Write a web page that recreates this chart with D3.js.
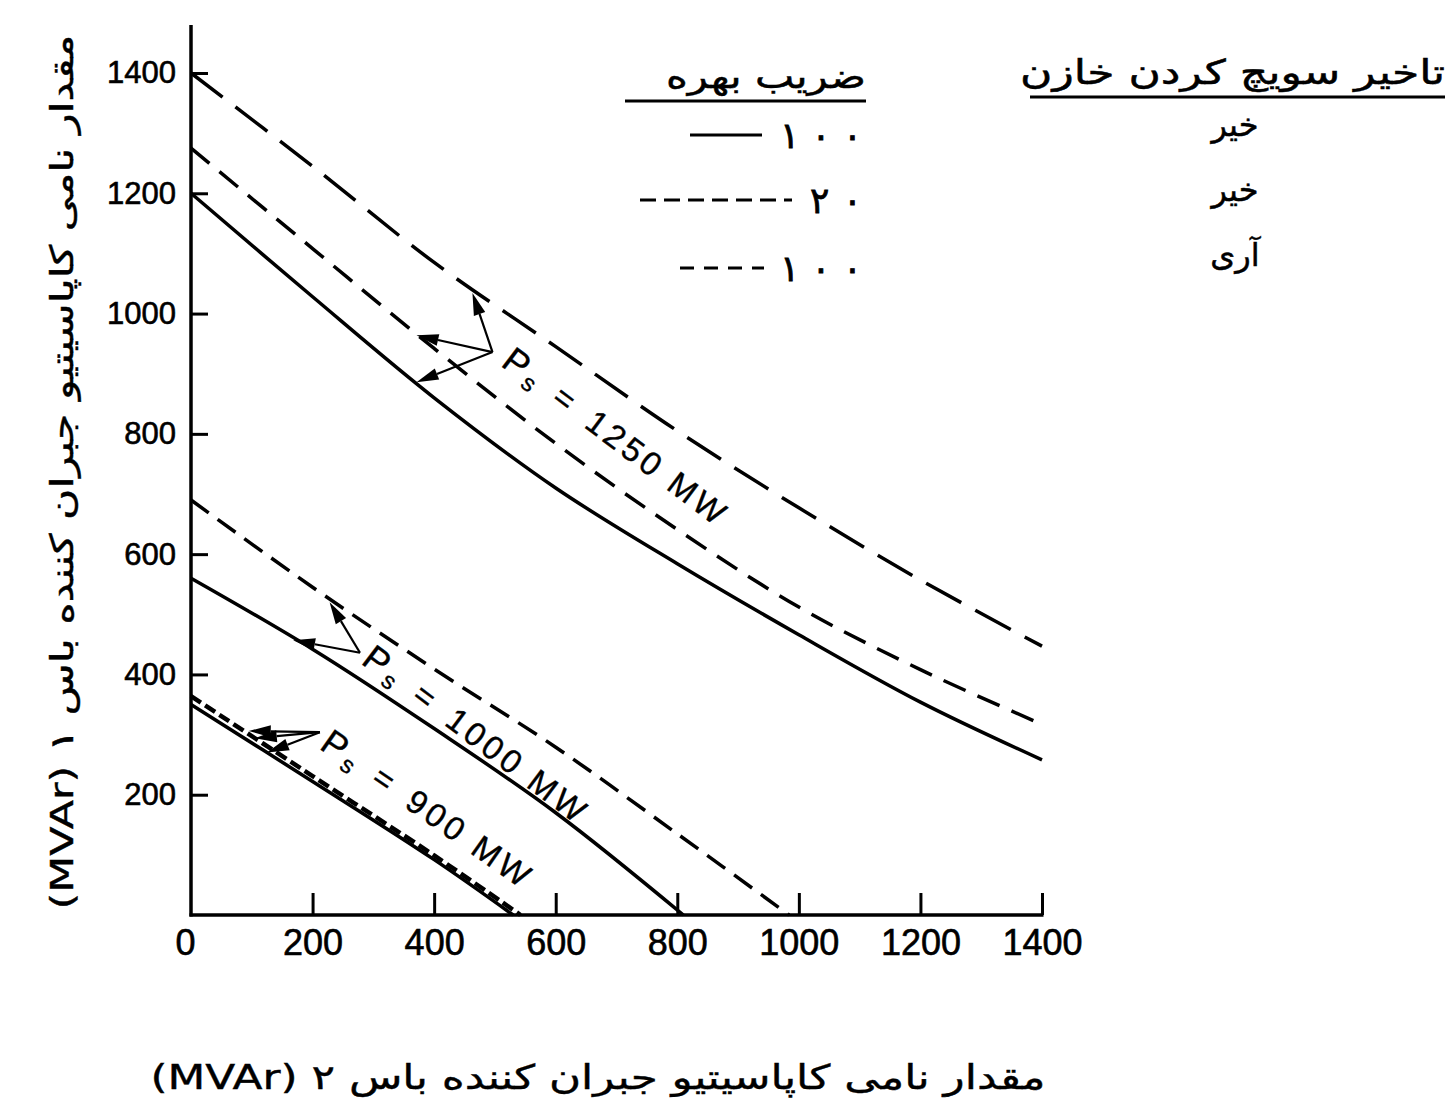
<!DOCTYPE html>
<html>
<head>
<meta charset="utf-8">
<script src="https://cdn.jsdelivr.net/npm/d3@7"></script>
<style>
  html, body { margin: 0; padding: 0; background: #fff; }
  svg { display: block; }
</style>
</head>
<body>
<svg id="chart" width="1451" height="1098"></svg>
<script>
// ---------------- data ----------------
const xTicks = [0, 200, 400, 600, 800, 1000, 1200, 1400];
const yTicks = [200, 400, 600, 800, 1000, 1200, 1400];

// Ps = 1250 MW
const ps1250Solid = [[0,1200],[200,1028],[400,860],[600,710],[800,584],[1000,466],[1200,354],[1400,258]];
const ps1250Med   = [[0,1275],[200,1108],[400,942],[600,784],[800,641],[1000,512],[1200,408],[1400,317]];
const ps1250Long  = [[0,1400],[200,1245],[400,1085],[600,945],[800,805],[1000,677],[1200,557],[1400,447]];
// Ps = 1000 MW
const ps1000Solid = [[0,560],[200,442],[400,310],[600,170],[810,0]];
const ps1000Dash  = [[0,690],[200,545],[400,409],[600,279],[800,135],[984,0]];
// Ps = 900 MW
const ps900Solid  = [[0,350],[200,222],[400,92],[530,0]];
const ps900Dash   = [[0,364],[200,231],[400,99],[542,0]];

const seriesStyles = {
  solid: null,
  long: "40,16",
  med: "24,13",
  med2: "22,11",
  short: "12,5"
};

// annotation arrows (data units): apex -> tips
const arrows = [
  { from: [496, 936], to: [[463, 1034], [371, 964], [371, 886]] },
  { from: [278, 436], to: [[228, 520], [168, 457]] },
  { from: [212, 304], to: [[95, 306], [105, 294], [125, 270]] }
];
// curve labels (data units of centre) and angle
const curveLabels = [
  { value: "1250", x: 700, y: 795, angle: 37 },
  { value: "1000", x: 470, y: 300, angle: 37 },
  { value: "900",  x: 390, y: 176, angle: 35 }
];

const legendCol1Title = "ضریب بهره";
const legendCol2Title = "تاخیر سویچ کردن خازن";
const legendGain = ["۱۰۰", "۲۰", "۱۰۰"];
const legendDelay = ["خیر", "خیر", "آری"];
const yLabel = "مقدار نامی کاپاسیتیو جبران کننده باس ۱ (MVAr)";
const xLabel = "مقدار نامی کاپاسیتیو جبران کننده باس ۲ (MVAr)";

// ---------------- drawing ----------------
const svg = d3.select("#chart");
const x = d3.scaleLinear().domain([0, 1400]).range([191, 1042]);
const y = d3.scaleLinear().domain([0, 1400]).range([915, 73]);
const fmt = d3.format("d");

// axes
const xAxis = d3.axisBottom(x).tickValues(xTicks).tickFormat(fmt)
  .tickSizeInner(-22).tickSizeOuter(0).tickPadding(14);
const gx = svg.append("g").attr("transform", `translate(0,${y(0)})`).call(xAxis);
gx.select(".domain").remove();
gx.selectAll(".tick line").attr("stroke", "#000").attr("stroke-width", 3)
  .filter(d => d === 0).remove();
gx.selectAll(".tick text")
  .attr("font-family", "'Liberation Sans', Arial, sans-serif")
  .attr("font-size", 36).attr("fill", "#000")
  .attr("stroke", "#000").attr("stroke-width", 0.6)
  .attr("dx", d => d === 0 ? -6 : 0);

const yAxis = d3.axisLeft(y).tickValues(yTicks).tickFormat(fmt)
  .tickSizeInner(-17).tickSizeOuter(0).tickPadding(15);
const gy = svg.append("g").attr("transform", `translate(${x(0)},0)`).call(yAxis);
gy.select(".domain").remove();
gy.selectAll(".tick line").attr("stroke", "#000").attr("stroke-width", 3);
gy.selectAll(".tick text")
  .attr("font-family", "'Liberation Sans', Arial, sans-serif")
  .attr("font-size", 31).attr("fill", "#000")
  .attr("stroke", "#000").attr("stroke-width", 0.6);

// axis lines
svg.append("line").attr("x1", x(0)).attr("x2", x(0)).attr("y1", y(0) + 1.5).attr("y2", y(1480))
  .attr("stroke", "#000").attr("stroke-width", 3.5);
svg.append("line").attr("x1", x(0) - 1.5).attr("x2", x(1400) + 1.5).attr("y1", y(0)).attr("y2", y(0))
  .attr("stroke", "#000").attr("stroke-width", 3.5);

// curves
const line = d3.line().x(d => x(d[0])).y(d => y(d[1])).curve(d3.curveCatmullRom.alpha(0.5));
const curves = [
  { data: ps1250Solid, style: "solid", w: 3.5 },
  { data: ps1250Med,   style: "med",   w: 3.5 },
  { data: ps1250Long,  style: "long",  w: 3.5 },
  { data: ps1000Solid, style: "solid", w: 3.5 },
  { data: ps1000Dash,  style: "med2",  w: 3.5 },
  { data: ps900Solid,  style: "solid", w: 3.5 },
  { data: ps900Dash,   style: "short", w: 4.5 }
];
svg.append("g").selectAll("path").data(curves).join("path")
  .attr("d", d => line(d.data))
  .attr("fill", "none").attr("stroke", "#000")
  .attr("stroke-width", d => d.w)
  .attr("stroke-dasharray", d => seriesStyles[d.style]);

// arrows
const ag = svg.append("g");
arrows.forEach(a => {
  const fx = x(a.from[0]), fy = y(a.from[1]);
  a.to.forEach(t => {
    const tx = x(t[0]), ty = y(t[1]);
    const ang = Math.atan2(ty - fy, tx - fx);
    const L = 22, Wd = 6;
    const bx = tx - L * Math.cos(ang), by = ty - L * Math.sin(ang);
    ag.append("line").attr("x1", fx).attr("y1", fy).attr("x2", bx).attr("y2", by)
      .attr("stroke", "#000").attr("stroke-width", 2.2);
    const px = -Math.sin(ang) * Wd, py = Math.cos(ang) * Wd;
    ag.append("polygon")
      .attr("points", `${tx},${ty} ${bx + px},${by + py} ${bx - px},${by - py}`)
      .attr("fill", "#000");
  });
});

// curve labels
curveLabels.forEach(l => {
  const t = svg.append("text")
    .attr("transform", `translate(${x(l.x)},${y(l.y)}) rotate(${l.angle})`)
    .attr("text-anchor", "middle").attr("dominant-baseline", "central")
    .attr("font-family", "'Liberation Sans', Arial, sans-serif")
    .attr("font-size", 33).attr("letter-spacing", 4).attr("fill", "#000")
    .attr("stroke", "#000").attr("stroke-width", 0.4);
  t.append("tspan").attr("font-size", 36).text("P");
  t.append("tspan").attr("font-size", 24).attr("dy", 9).text("s");
  t.append("tspan").attr("dy", -9).attr("dx", 18).text("=");
  t.append("tspan").attr("dx", 18).text(l.value + " MW");
});

// legend
const fa = "'DejaVu Sans', 'Noto Sans', sans-serif";
svg.append("text").attr("x", 866).attr("y", 88).attr("text-anchor", "end")
  .attr("font-family", fa).attr("font-size", 34).attr("textLength", 200).attr("lengthAdjust", "spacingAndGlyphs")
  .attr("stroke", "#000").attr("stroke-width", 0.5)
  .text(legendCol1Title);
svg.append("line").attr("x1", 625).attr("x2", 866).attr("y1", 101).attr("y2", 101)
  .attr("stroke", "#000").attr("stroke-width", 3);
svg.append("text").attr("x", 1445).attr("y", 84).attr("text-anchor", "end")
  .attr("font-family", fa).attr("font-size", 34).attr("textLength", 425).attr("lengthAdjust", "spacingAndGlyphs")
  .attr("stroke", "#000").attr("stroke-width", 0.5)
  .text(legendCol2Title);
svg.append("line").attr("x1", 1030).attr("x2", 1445).attr("y1", 97).attr("y2", 97)
  .attr("stroke", "#000").attr("stroke-width", 3);

const rowY = [135, 200, 268];
const rowLines = [
  { x1: 690, x2: 762, dash: null },
  { x1: 640, x2: 792, dash: "16,8" },
  { x1: 680, x2: 764, dash: "14,10" }
];
legendGain.forEach((g, i) => {
  svg.append("text").attr("x", 862).attr("y", rowY[i]).attr("text-anchor", "end")
    .attr("dominant-baseline", "central")
    .attr("font-family", fa).attr("font-size", 36)
    .attr("stroke", "#000").attr("stroke-width", 0.8)
    .attr("textLength", g.length === 3 ? 82 : 52).attr("lengthAdjust", "spacing")
    .text(g);
  svg.append("line").attr("x1", rowLines[i].x1).attr("x2", rowLines[i].x2)
    .attr("y1", rowY[i]).attr("y2", rowY[i])
    .attr("stroke", "#000").attr("stroke-width", 3)
    .attr("stroke-dasharray", rowLines[i].dash);
});
const delayY = [125, 190, 255];
legendDelay.forEach((d, i) => {
  svg.append("text").attr("x", 1235).attr("y", delayY[i]).attr("text-anchor", "middle")
    .attr("dominant-baseline", "central")
    .attr("font-family", fa).attr("font-size", 32)
    .attr("stroke", "#000").attr("stroke-width", 0.5)
    .text(d);
});

// axis titles
svg.append("text")
  .attr("transform", "translate(62,472) rotate(-90)")
  .attr("direction", "rtl").attr("text-anchor", "middle").attr("dominant-baseline", "central")
  .attr("font-family", fa).attr("font-size", 32)
  .attr("stroke", "#000").attr("stroke-width", 0.4)
  .attr("textLength", 875).attr("lengthAdjust", "spacingAndGlyphs")
  .text(yLabel);
svg.append("text")
  .attr("x", 598).attr("y", 1077)
  .attr("direction", "rtl").attr("text-anchor", "middle").attr("dominant-baseline", "central")
  .attr("font-family", fa).attr("font-size", 34)
  .attr("stroke", "#000").attr("stroke-width", 0.4)
  .attr("textLength", 895).attr("lengthAdjust", "spacingAndGlyphs")
  .text(xLabel);
</script>
</body>
</html>
